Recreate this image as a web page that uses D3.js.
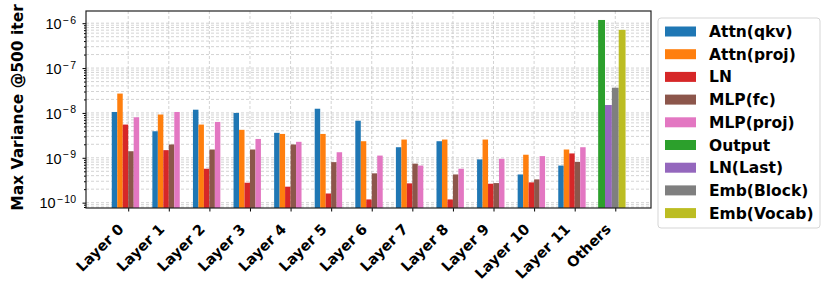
<!DOCTYPE html>
<html>
<head>
<meta charset="utf-8">
<script src="https://cdn.jsdelivr.net/npm/d3@7"></script>
<style>
  body { margin: 0; background: #fff; }
  svg { font-family: "DejaVu Sans", sans-serif; }
</style>
</head>
<body>
<div id="chart"></div>
<script>
// groups on the x axis
var groups = ["Layer 0", "Layer 1", "Layer 2", "Layer 3", "Layer 4", "Layer 5",
  "Layer 6", "Layer 7", "Layer 8", "Layer 9", "Layer 10", "Layer 11", "Others"];

// per-layer series (Layer 0 .. Layer 11)
var attnQkv  = [1.05e-8, 3.9e-9, 1.18e-8, 1.0e-8, 3.6e-9, 1.24e-8, 6.7e-9, 1.72e-9, 2.34e-9, 9.2e-10, 4.25e-10, 6.7e-10];
var attnProj = [2.7e-8, 9.2e-9, 5.5e-9, 4.2e-9, 3.4e-9, 3.4e-9, 2.34e-9, 2.55e-9, 2.55e-9, 2.55e-9, 1.17e-9, 1.53e-9];
var ln       = [5.5e-9, 1.48e-9, 5.7e-10, 2.78e-10, 2.27e-10, 1.6e-10, 1.18e-10, 2.69e-10, 1.18e-10, 2.64e-10, 2.83e-10, 1.25e-9];
var mlpFc    = [1.4e-9, 1.98e-9, 1.53e-9, 1.53e-9, 1.98e-9, 8.0e-10, 4.5e-10, 7.4e-10, 4.25e-10, 2.73e-10, 3.3e-10, 8.1e-10];
var mlpProj  = [8.0e-9, 1.05e-8, 6.3e-9, 2.63e-9, 2.27e-9, 1.33e-9, 1.12e-9, 6.7e-10, 5.7e-10, 9.5e-10, 1.09e-9, 1.72e-9];

// "Others" group
var othersNames  = ["Output", "LN(Last)", "Emb(Block)", "Emb(Vocab)"];
var othersValues = [1.18e-6, 1.5e-8, 3.65e-8, 7.1e-7];

var layerNames = ["Attn(qkv)", "Attn(proj)", "LN", "MLP(fc)", "MLP(proj)"];
var layerSeries = [attnQkv, attnProj, ln, mlpFc, mlpProj];

var yMajor = [1e-10, 1e-9, 1e-8, 1e-7, 1e-6];

var colors = {
  "Attn(qkv)": "#1f77b4", "Attn(proj)": "#ff7f0e", "LN": "#d62728",
  "MLP(fc)": "#8c564b", "MLP(proj)": "#e377c2", "Output": "#2ca02c",
  "LN(Last)": "#9467bd", "Emb(Block)": "#7f7f7f", "Emb(Vocab)": "#bcbd22"
};
var legendNames = layerNames.concat(othersNames);

var W = 831, H = 295;
var margin = {top: 11, left: 86};
var plotW = 651 - margin.left, plotH = 208 - margin.top;

var svg = d3.select("#chart").append("svg")
  .attr("width", W).attr("height", H);
var g = svg.append("g")
  .attr("transform", "translate(" + margin.left + "," + margin.top + ")");

var x = d3.scaleLinear().domain([-1.04, 12.88]).range([0, plotW]);
var y = d3.scaleLog().domain([7.6e-11, 1.87e-6]).range([plotH, 0]);

// bar records
var groupWidth = 0.675;
var bars = [];
layerSeries.forEach(function (vals, i) {
  var w = groupWidth / layerSeries.length;
  vals.forEach(function (v, j) {
    bars.push({name: layerNames[i], value: v, pos: j + (i - layerSeries.length / 2) * w, w: w});
  });
});
othersValues.forEach(function (v, i) {
  var w = groupWidth / othersValues.length;
  bars.push({name: othersNames[i], value: v, pos: 12 + (i - othersValues.length / 2) * w, w: w});
});

// grid
var allTicks = y.ticks();
g.append("g").selectAll("line").data(allTicks).enter().append("line")
  .attr("x1", 0).attr("x2", plotW)
  .attr("y1", function (d) { return y(d); }).attr("y2", function (d) { return y(d); })
  .attr("stroke", "#c8c8c8").attr("stroke-width", 0.8).attr("stroke-dasharray", "3,2");
g.append("g").selectAll("line").data(groups).enter().append("line")
  .attr("x1", function (d, i) { return x(i); }).attr("x2", function (d, i) { return x(i); })
  .attr("y1", 0).attr("y2", plotH)
  .attr("stroke", "#c8c8c8").attr("stroke-width", 0.8).attr("stroke-dasharray", "3,2");

// bars
g.append("g").selectAll("rect").data(bars).enter().append("rect")
  .attr("x", function (d) { return x(d.pos - d.w / 2); })
  .attr("width", function (d) { return x(d.w) - x(0); })
  .attr("y", function (d) { return y(d.value); })
  .attr("height", function (d) { return plotH - y(d.value); })
  .attr("fill", function (d) { return colors[d.name]; });

// y axis: major ticks with 10^n labels, minor ticks
var minors = allTicks.filter(function (d) { return yMajor.indexOf(d) < 0; });
g.append("g").call(d3.axisLeft(y).tickValues(minors).tickSize(2).tickFormat(""))
  .call(function (a) { a.select(".domain").remove(); });
var yAxis = g.append("g").call(d3.axisLeft(y).tickValues(yMajor).tickSize(3.5).tickFormat(""));
yAxis.select(".domain").remove();
yAxis.selectAll(".tick text").remove();
yAxis.selectAll(".tick").append("text")
  .attr("x", -10).attr("dy", "0.36em")
  .attr("text-anchor", "end").attr("fill", "#000")
  .attr("font-size", 14.5)
  .each(function (d) {
    var t = d3.select(this);
    t.append("tspan").text("10");
    t.append("tspan").attr("dy", "-0.5em").attr("dx", 1).attr("font-size", 10.5).text("\u2212");
    t.append("tspan").attr("dx", 1.5).attr("font-size", 10.5).text(Math.round(-Math.log10(d)));
  });

// x axis
var xAxis = g.append("g").attr("transform", "translate(0," + plotH + ")")
  .call(d3.axisBottom(x).tickValues(d3.range(groups.length)).tickSize(3.5)
    .tickFormat(function (i) { return groups[i]; }));
xAxis.select(".domain").remove();
xAxis.attr("font-size", 14.5).attr("font-weight", "bold").attr("font-family", null);
xAxis.selectAll(".tick text")
  .attr("text-anchor", "end")
  .attr("x", 0).attr("y", 0).attr("dy", 0)
  .attr("transform", "translate(-4,22) rotate(-45)");

// frame
g.append("rect").attr("width", plotW).attr("height", plotH)
  .attr("fill", "none").attr("stroke", "#222").attr("stroke-width", 1.2);

// y label
svg.append("text")
  .attr("transform", "translate(17,107.5) rotate(-90)")
  .attr("text-anchor", "middle").attr("dy", "0.36em")
  .attr("font-size", 15.5).attr("font-weight", "bold")
  .text("Max Variance @500 iter");

// legend
var lg = svg.append("g").attr("transform", "translate(658,18)");
lg.append("rect").attr("width", 162).attr("height", 210).attr("rx", 3)
  .attr("fill", "#fff").attr("stroke", "#d5d5d5");
var items = lg.selectAll("g.item").data(legendNames).enter().append("g")
  .attr("transform", function (d, i) { return "translate(0," + (13.5 + i * 22.7) + ")"; });
items.append("rect").attr("x", 7).attr("y", -5).attr("width", 31).attr("height", 10)
  .attr("fill", function (d) { return colors[d]; });
items.append("text").attr("x", 51).attr("dy", "0.36em")
  .attr("font-size", 15.5).attr("font-weight", "bold")
  .text(function (d) { return d; });
</script>
</body>
</html>
